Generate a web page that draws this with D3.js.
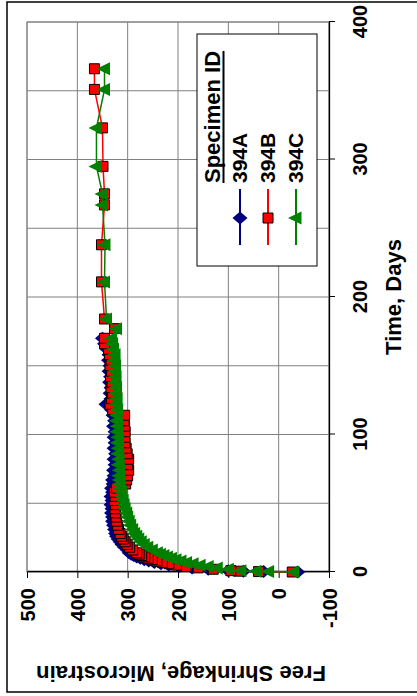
<!DOCTYPE html>
<html><head><meta charset="utf-8">
<script src="https://cdn.jsdelivr.net/npm/d3@7/dist/d3.min.js"></script>
<style>
body{margin:0;background:#fff}
svg{display:block}
text{font-family:"Liberation Sans",Arial,sans-serif;font-weight:bold;fill:#000}
</style>
</head><body>
<svg id="chart" width="417" height="696"></svg>
<script>
// ---- data ----
const days = [0,0.3,0.6,1,2,3,4,5,6,7,8,9,10,11,12,13,14,16,18,20,22,24,26,28,31,34,37,40,43,46,49,52,55,58,61,64,67,70,74,78,82,86,90,94,98,102,106,110,114,118,122,126,130,134,138,142,146,150,154,158,162,166,170,177,184,211,238,267,275,295,323,351,366];
const s394A = [-38,30,70,100,140,172,198,218,234,247,258,267,275,282,288,293,297,300,306,311,315,319,322,324,326,328,330,330,332,331,333,331,333,330,332,329,330,327,328,325,327,324,327,325,327,325,328,326,329,332,343,333,335,333,336,334,337,335,338,337,341,346,350,null,null,null,null,null,null,null,null,null,null];
const s394B = [-27,40,80,95,130,160,184,203,218,231,242,251,259,266,272,277,282,290,296,301,305,309,312,315,318,320,322,323,324,325,324,326,325,326,322,304,302,300,298,300,298,301,303,305,306,305,306,307,306,330,335,332,330,333,331,334,332,335,333,336,338,346,346,326,346,352,352,346,346,349,350,366,366];
const s394C = [-30,20,45,75,100,122,140,156,170,183,194,204,213,221,228,235,241,251,260,267,273,278,282,286,290,294,297,300,302,305,307,309,311,312,314,315,316,317,316,318,317,319,318,320,319,321,320,322,321,320,322,321,323,322,324,323,325,324,326,325,328,330,332,322,342,346,345,350,350,362,362,346,346];
const seriesNames = ["394A","394B","394C"];
const seriesColors = ["#000080","#FF0000","#008000"];
const timeTicks = [0,100,200,300,400];
const timeGrid = [50,100,150,200,250,300,350,400];
const strainTicks = [-100,0,100,200,300,400,500];
const xTitle = "Time, Days";
const yTitle = "Free Shrinkage, Microstrain";
const legendTitle = "Specimen ID";

// ---- layout (drawn in unrotated frame, then rotated -90deg) ----
const svg = d3.select("#chart");
const g = svg.append("g").attr("transform","translate(0,696) rotate(-90)");

// outer chart border
g.append("rect").attr("x",4).attr("y",7).attr("width",690).attr("height",420)
  .attr("fill","#fff").attr("stroke","#000").attr("stroke-width",1.5);

const x = d3.scaleLinear().domain([0,400]).range([124,674]);
const y = d3.scaleLinear().domain([-100,500]).range([329,27]);

// plot area
g.append("rect").attr("x",x(0)).attr("y",y(500)).attr("width",x(400)-x(0)).attr("height",y(-100)-y(500))
  .attr("fill","#fff").attr("stroke","#808080").attr("stroke-width",1);

// gridlines
g.append("g").selectAll("line").data(timeGrid).join("line")
  .attr("x1",d=>x(d)).attr("x2",d=>x(d)).attr("y1",y(500)).attr("y2",y(-100))
  .attr("stroke","#808080").attr("stroke-width",1);
g.append("g").selectAll("line").data(strainTicks).join("line")
  .attr("x1",x(0)).attr("x2",x(400)).attr("y1",d=>y(d)).attr("y2",d=>y(d))
  .attr("stroke","#808080").attr("stroke-width",1);

// axes
const fmt = d => String(d);
const xAxis = g.append("g").attr("transform",`translate(0,${y(-100)})`)
  .call(d3.axisBottom(x).tickValues(timeTicks).tickSize(6).tickSizeOuter(0).tickFormat(fmt));
xAxis.selectAll(".tick text").attr("y",38).attr("dy",0).attr("font-size",20)
  .style("font-family",'"Liberation Sans",Arial,sans-serif').style("font-weight","bold");
const yAxis = g.append("g").attr("transform",`translate(${x(0)},0)`)
  .call(d3.axisLeft(y).tickValues(strainTicks).tickSize(6).tickSizeOuter(0).tickFormat(fmt));
yAxis.selectAll(".tick text").attr("x",-16).attr("dy",0).attr("y",7).attr("font-size",20)
  .style("font-family",'"Liberation Sans",Arial,sans-serif').style("font-weight","bold");
[xAxis,yAxis].forEach(a=>{a.selectAll("path.domain").attr("stroke","#000").attr("stroke-width",1.3);
  a.selectAll(".tick line").attr("stroke","#000").attr("stroke-width",1);});

// titles
g.append("text").attr("x",(x(0)+x(400))/2).attr("y",401).attr("text-anchor","middle")
  .attr("font-size",22).text(xTitle);
g.append("text").attr("transform",`translate(30,${(y(500)+y(-100))/2+3}) rotate(-90)`)
  .attr("text-anchor","middle").attr("font-size",22).text(yTitle);

// markers
const markerPaths = [
  "M0,-7.5L6.5,0L0,7.5L-6.5,0Z",
  "M-5,-5H5V5H-5Z",
  "M0,-8L6.5,5.5L-6.5,5.5Z"
];
const markerStroke = [null,"#000",null];

const seriesVals = [s394A,s394B,s394C];
const line = d3.line().defined(d=>d[1]!=null).x(d=>x(d[0])).y(d=>y(d[1]));
seriesVals.forEach((vals,i)=>{
  const pts = days.map((d,j)=>[d,vals[j]]);
  const sg = g.append("g");
  sg.append("path").datum(pts).attr("d",line).attr("fill","none")
    .attr("stroke",seriesColors[i]).attr("stroke-width",1.5);
  sg.selectAll("path.m").data(pts.filter(p=>p[1]!=null)).join("path").attr("class","m")
    .attr("d",markerPaths[i]).attr("transform",p=>`translate(${x(p[0])},${y(p[1])})`)
    .attr("fill",seriesColors[i]).attr("stroke",markerStroke[i]||"none").attr("stroke-width",1);
});

// legend
const lg = g.append("g");
lg.append("rect").attr("x",430).attr("y",197).attr("width",232).attr("height",120)
  .attr("fill","#fff").attr("stroke","#000").attr("stroke-width",1);
const ht = lg.append("text").attr("x",513).attr("y",220).attr("font-size",22).text(legendTitle);
const hw = ht.node().getComputedTextLength();
lg.append("line").attr("x1",513).attr("x2",513+hw).attr("y1",223.5).attr("y2",223.5)
  .attr("stroke","#000").attr("stroke-width",2);
seriesNames.forEach((n,i)=>{
  const cy = 240 + i*28;
  lg.append("line").attr("x1",451).attr("x2",507).attr("y1",cy).attr("y2",cy)
    .attr("stroke",seriesColors[i]).attr("stroke-width",2);
  lg.append("path").attr("d",markerPaths[i]).attr("transform",`translate(478,${cy})`)
    .attr("fill",seriesColors[i]).attr("stroke",markerStroke[i]||"none").attr("stroke-width",1);
  lg.append("text").attr("x",513).attr("y",cy+7).attr("font-size",21).text(n);
});
</script>
</body></html>
